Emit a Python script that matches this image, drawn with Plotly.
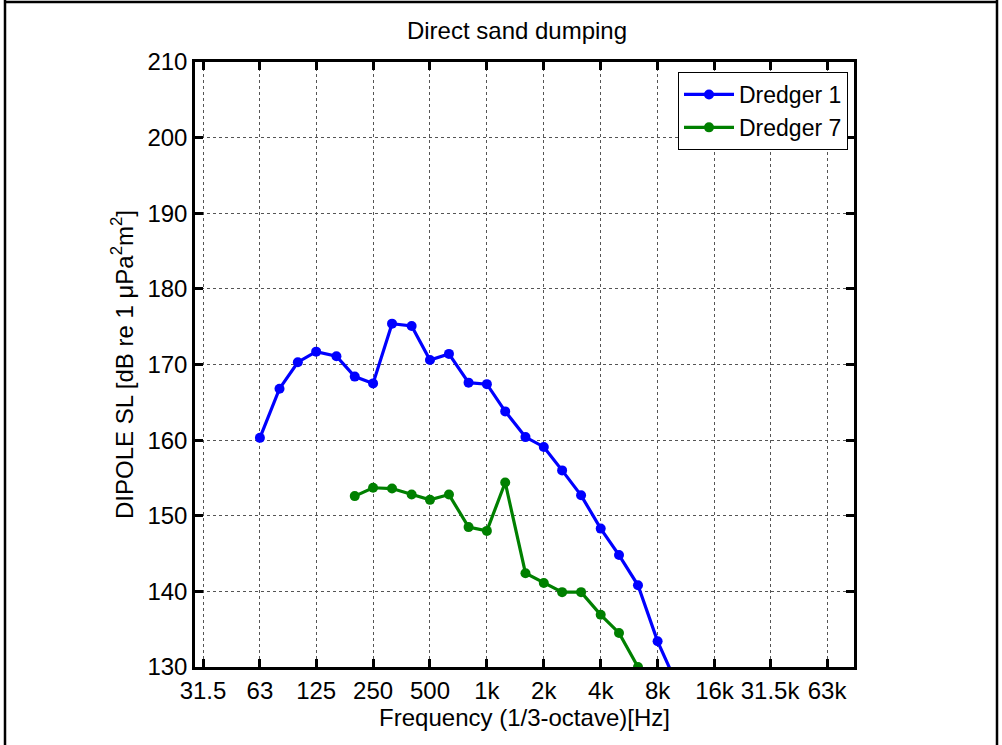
import plotly.graph_objects as go

# 1/3-octave band centre frequencies (Hz)
freq_d1 = [63, 80, 100, 125, 160, 200, 250, 315, 400, 500, 630, 800, 1000, 1250,
           1600, 2000, 2500, 3150, 4000, 5000, 6300, 8000, 10000]
sl_d1 = [160.3, 166.8, 170.3, 171.7, 171.1, 168.4, 167.5, 175.4, 175.1, 170.6, 171.4,
         167.6, 167.4, 163.8, 160.4, 159.1, 156.0, 152.7, 148.3, 144.8, 140.8, 133.4, 128.0]

freq_d7 = [200, 250, 315, 400, 500, 630, 800, 1000, 1250, 1600, 2000, 2500, 3150,
           4000, 5000, 6300]
sl_d7 = [152.6, 153.7, 153.6, 152.8, 152.1, 152.8, 148.5, 148.0, 154.4, 142.4, 141.1,
         139.9, 139.9, 136.9, 134.5, 130.0]

tick_vals = [31.5, 63, 125, 250, 500, 1000, 2000, 4000, 8000, 16000, 31500, 63000]
tick_text = ["31.5", "63", "125", "250", "500", "1k", "2k", "4k", "8k", "16k", "31.5k", "63k"]
y_ticks = [130, 140, 150, 160, 170, 180, 190, 200, 210]

FONT = "Liberation Sans, Arial, sans-serif"

fig = go.Figure()
fig.add_trace(go.Scatter(x=freq_d1, y=sl_d1, mode="lines+markers", name="Dredger 1",
                         line=dict(color="#0000FF", width=3.2),
                         marker=dict(color="#0000FF", size=10)))
fig.add_trace(go.Scatter(x=freq_d7, y=sl_d7, mode="lines+markers", name="Dredger 7",
                         line=dict(color="#008000", width=3.2),
                         marker=dict(color="#008000", size=10)))

L, R, T, B = 195, 148, 62, 78
W, H = 1002, 745
pw = W - L - R
ph = H - T - B

def px_x(p):
    return (p - L) / pw

def px_y(p):
    return (H - B - p) / ph

axis_common = dict(showline=True, linewidth=2.5, linecolor="black", mirror="ticks",
                   ticks="inside", ticklen=8, tickwidth=2.5, tickcolor="black",
                   showgrid=True, gridcolor="#555555", gridwidth=1, griddash="dot",
                   zeroline=False, tickfont=dict(family=FONT, size=24, color="black"))

fig.update_xaxes(type="log", range=[1.456, 4.942], tickvals=tick_vals, ticktext=tick_text,
                 title=dict(text="Frequency (1/3-octave)[Hz]",
                            font=dict(family=FONT, size=24, color="black"), standoff=5),
                 **axis_common)
fig.update_yaxes(range=[130, 210], tickvals=y_ticks,
                 title=dict(text="DIPOLE SL [dB re 1 \u03bcPa<sup>2</sup>m<sup>2</sup>]",
                            font=dict(family=FONT, size=24, color="black"), standoff=8),
                 **axis_common)

fig.update_layout(
    width=W, height=H,
    margin=dict(l=L, r=R, t=T, b=B, autoexpand=False),
    paper_bgcolor="white", plot_bgcolor="white",
    title=dict(text="Direct sand dumping", x=517 / W, xanchor="center",
               y=1 - 31 / H, yanchor="middle", yref="container",
               font=dict(family=FONT, size=24, color="black")),
    legend=dict(x=px_x(848), xanchor="right", y=px_y(72), yanchor="top",
                bordercolor="black", borderwidth=1, bgcolor="white",
                font=dict(family=FONT, size=23, color="black"),
                tracegroupgap=0, itemwidth=50),
    showlegend=True,
    shapes=[
        dict(type="line", xref="paper", yref="paper", x0=px_x(5), x1=px_x(5),
             y0=px_y(0), y1=px_y(760), line=dict(color="black", width=2.5)),
        dict(type="line", xref="paper", yref="paper", x0=px_x(5), x1=px_x(997),
             y0=px_y(2), y1=px_y(2), line=dict(color="black", width=2.5)),
        dict(type="line", xref="paper", yref="paper", x0=px_x(997), x1=px_x(997),
             y0=px_y(0), y1=px_y(760), line=dict(color="black", width=2.5)),
    ],
)

fig.write_html("out.html")
